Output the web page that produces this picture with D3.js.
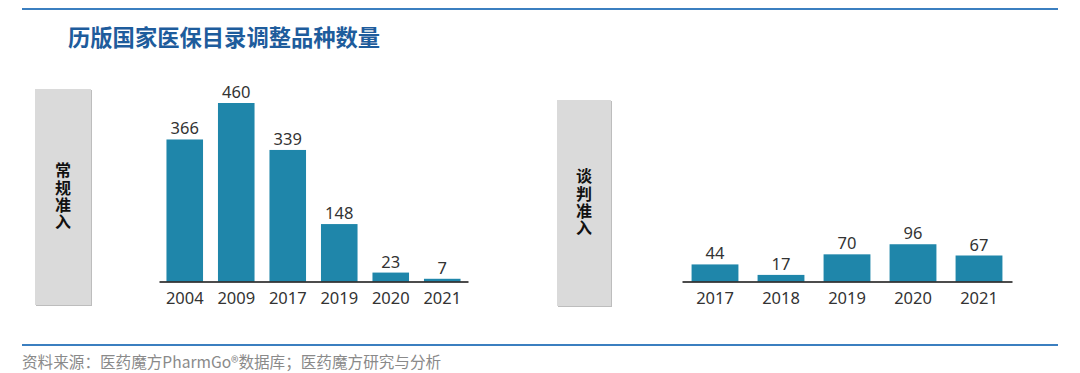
<!DOCTYPE html>
<html>
<head>
  <meta charset="utf-8">
  <script src="https://cdnjs.cloudflare.com/ajax/libs/d3/7.8.5/d3.min.js"></script>
  <style>
    body { margin: 0; background: #fff; }
    svg { display: block; }
    .title { font-family: "Noto Sans CJK SC", sans-serif; font-weight: bold; font-size: 22.3px; fill: #1e5c9c; }
    .side-label { font-family: "Noto Sans CJK SC", sans-serif; font-weight: bold; font-size: 16px; fill: #111; writing-mode: vertical-rl; letter-spacing: 1.3px; }
    .value { font-family: "Noto Sans", sans-serif; font-size: 16.5px; fill: #333; }
    .tick-label { font-family: "Noto Sans", sans-serif; font-size: 16.5px; fill: #333; }
    .source { font-family: "Noto Sans CJK SC", sans-serif; font-size: 15.6px; fill: #8a8a8a; }
  </style>
</head>
<body>
<div id="chart"></div>
<script>
  // regular admission
  const regularYears = ["2004", "2009", "2017", "2019", "2020", "2021"];
  const regularValues = [366, 460, 339, 148, 23, 7];
  // negotiated admission
  const negoYears = ["2017", "2018", "2019", "2020", "2021"];
  const negoValues = [44, 17, 70, 96, 67];

  const titleText = "历版国家医保目录调整品种数量";
  const sourceText = "资料来源：医药魔方PharmGo®数据库；医药魔方研究与分析";

  const width = 1080, height = 373;
  const barColor = "#1f86aa";
  const baseY = 281.5;

  const svg = d3.select("#chart").append("svg")
    .attr("width", width).attr("height", height);

  // rules
  svg.append("line").attr("x1", 22).attr("x2", 1058).attr("y1", 9).attr("y2", 9)
    .attr("stroke", "#3b7fc0").attr("stroke-width", 2);
  svg.append("line").attr("x1", 22).attr("x2", 1058).attr("y1", 345).attr("y2", 345)
    .attr("stroke", "#3b7fc0").attr("stroke-width", 2);

  svg.append("text").attr("class", "title").attr("x", 68).attr("y", 46).text(titleText);
  svg.append("text").attr("class", "source").attr("x", 22).attr("y", 368).text(sourceText);

  // shared value scale
  const y = d3.scaleLinear().domain([0, 460]).range([baseY, 103]);

  function panel(cats, vals, range, box, label) {
    const g = svg.append("g");

    // grey side box
    g.append("rect").attr("x", box.x + 1).attr("y", box.y + 1)
      .attr("width", box.w).attr("height", box.h).attr("fill", "#bdbdbd");
    g.append("rect").attr("x", box.x).attr("y", box.y)
      .attr("width", box.w).attr("height", box.h).attr("fill", "#dadada");
    g.append("text")
      .attr("class", "side-label")
      .attr("x", box.x + box.w / 2)
      .attr("y", box.y + box.h / 2)
      .attr("text-anchor", "middle")
      .text(label);

    const x = d3.scaleBand().domain(cats).range(range).paddingInner(0.29).paddingOuter(0.145);

    g.selectAll(".bar").data(cats).enter().append("rect")
      .attr("class", "bar")
      .attr("x", d => x(d))
      .attr("y", (d, i) => y(vals[i]))
      .attr("width", x.bandwidth())
      .attr("height", (d, i) => baseY - y(vals[i]))
      .attr("fill", barColor);

    g.selectAll(".value").data(cats).enter().append("text")
      .attr("class", "value")
      .attr("x", d => x(d) + x.bandwidth() / 2)
      .attr("y", (d, i) => y(vals[i]) - 5)
      .attr("text-anchor", "middle")
      .text((d, i) => vals[i]);

    const axis = g.append("g").attr("transform", `translate(0,${baseY})`)
      .call(d3.axisBottom(x).tickSize(0).tickPadding(11));
    axis.select(".domain").attr("stroke", "#111").attr("stroke-width", 1.5);
    axis.selectAll(".tick text").attr("class", "tick-label")
      .attr("font-family", null).attr("font-size", null).attr("fill", null);
  }

  panel(regularYears, regularValues, [159, 468], { x: 35, y: 89, w: 56, h: 216 }, "常规准入");
  panel(negoYears, negoValues, [682, 1012], { x: 557, y: 100, w: 54, h: 206 }, "谈判准入");
</script>
</body>
</html>
